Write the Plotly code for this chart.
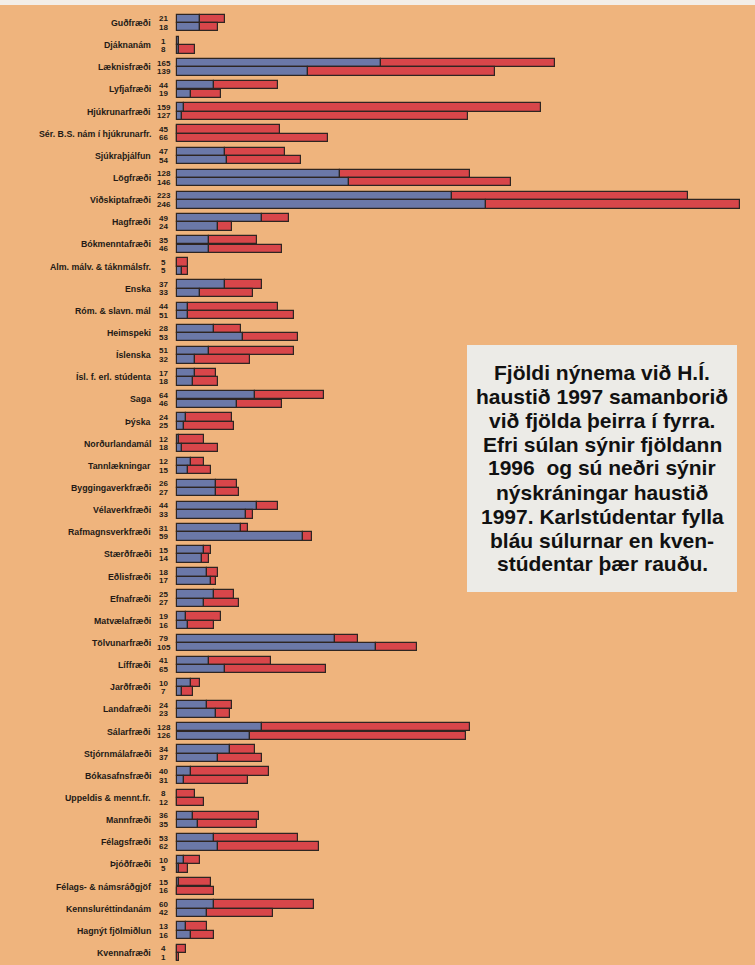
import plotly.graph_objects as go

categories = ["Guðfræði", "Djáknanám", "Læknisfræði", "Lyfjafræði", "Hjúkrunarfræði",
              "Sér. B.S. nám í hjúkrunarfr.", "Sjúkraþjálfun", "Lögfræði", "Viðskiptafræði",
              "Hagfræði", "Bókmenntafræði", "Alm. málv. & táknmálsfr.", "Enska",
              "Róm. & slavn. mál", "Heimspeki", "Íslenska", "Ísl. f. erl. stúdenta", "Saga",
              "Þýska", "Norðurlandamál", "Tannlækningar", "Byggingaverkfræði", "Vélaverkfræði",
              "Rafmagnsverkfræði", "Stærðfræði", "Eðlisfræði", "Efnafræði", "Matvælafræði",
              "Tölvunarfræði", "Líffræði", "Jarðfræði", "Landafræði", "Sálarfræði",
              "Stjórnmálafræði", "Bókasafnsfræði", "Uppeldis & mennt.fr.", "Mannfræði",
              "Félagsfræði", "Þjóðfræði", "Félags- & námsráðgjöf", "Kennsluréttindanám",
              "Hagnýt fjölmiðlun", "Kvennafræði"]

men_1996 = [10, 1, 89, 16, 3, 0, 21, 71, 120, 37, 14, 0, 21, 5, 16, 14, 8, 34, 4, 1, 6,
            17, 35, 28, 12, 13, 16, 4, 69, 14, 6, 13, 37, 23, 6, 0, 7, 16, 3, 1, 16, 4, 0]
women_1996 = [11, 0, 76, 28, 156, 45, 26, 57, 103, 12, 21, 5, 16, 39, 12, 37, 9, 30, 20, 11, 6,
              9, 9, 3, 3, 5, 9, 15, 10, 27, 4, 11, 91, 11, 34, 8, 29, 37, 7, 14, 44, 9, 4]
men_1997 = [10, 1, 57, 6, 2, 0, 22, 75, 135, 18, 14, 2, 10, 5, 29, 8, 7, 26, 3, 2, 5,
            17, 30, 55, 11, 15, 12, 5, 87, 21, 2, 17, 32, 18, 3, 0, 9, 18, 1, 0, 13, 6, 0]
women_1997 = [8, 7, 82, 13, 125, 66, 32, 71, 111, 6, 32, 3, 23, 46, 24, 24, 11, 20, 22, 16, 10,
              10, 3, 4, 3, 2, 15, 11, 18, 44, 5, 6, 94, 19, 28, 12, 26, 44, 4, 16, 29, 10, 1]
total_1996 = [21, 1, 165, 44, 159, 45, 47, 128, 223, 49, 35, 5, 37, 44, 28, 51, 17, 64, 24, 12, 12,
              26, 44, 31, 15, 18, 25, 19, 79, 41, 10, 24, 128, 34, 40, 8, 36, 53, 10, 15, 60, 13, 4]
total_1997 = [18, 8, 139, 19, 127, 66, 54, 146, 246, 24, 46, 5, 33, 51, 53, 32, 18, 46, 25, 18, 15,
              27, 33, 59, 14, 17, 27, 16, 105, 65, 7, 23, 126, 37, 31, 12, 35, 62, 5, 16, 42, 16, 1]

info_lines = ["Fjöldi nýnema við H.Í.", "haustið 1997 samanborið", "við fjölda þeirra í fyrra.",
              "Efri súlan sýnir fjöldann", "1996  og sú neðri sýnir", "nýskráningar haustið",
              "1997. Karlstúdentar fylla", "bláu súlurnar en kven-", "stúdentar þær rauðu."]

BLUE = "#6b78a8"
RED = "#d8464a"
EDGE = "#2e2522"
BG = "#efb47d"
TXT = "#231a16"

W, H = 755, 965
ML, MR, MT, MB = 175, 0, 12, 1
PW, PH = W - ML - MR, H - MT - MB
SCALE = 2.29  # px per student
x0 = -2 / SCALE
x1 = x0 + PW / SCALE

n = len(categories)
idx = list(range(n))
y96 = [i - 0.19 for i in idx]
y97 = [i + 0.19 for i in idx]
bw = 0.375

line = dict(color=EDGE, width=1.2)
fig = go.Figure()
fig.add_trace(go.Bar(y=y96, x=men_1996, orientation="h", width=bw, marker=dict(color=BLUE, line=line),
                     name="Karlar 1996", hoverinfo="x"))
fig.add_trace(go.Bar(y=y96, x=women_1996, base=men_1996, orientation="h", width=bw,
                     marker=dict(color=RED, line=line), name="Konur 1996", hoverinfo="x"))
fig.add_trace(go.Bar(y=y97, x=men_1997, orientation="h", width=bw, marker=dict(color=BLUE, line=line),
                     name="Karlar 1997", hoverinfo="x"))
fig.add_trace(go.Bar(y=y97, x=women_1997, base=men_1997, orientation="h", width=bw,
                     marker=dict(color=RED, line=line), name="Konur 1997", hoverinfo="x"))


def px_x(p):
    return (p - ML) / PW


def px_y(p):
    return (H - MB - p) / PH


ann = []
for i, name in enumerate(categories):
    ann.append(dict(x=px_x(153), xref="paper", y=i, yref="y", text="<b>" + name + "</b>", showarrow=False,
                    xanchor="right", yanchor="middle",
                    font=dict(family="Liberation Sans, Arial, sans-serif", size=8.8, color=TXT)))
    ann.append(dict(x=px_x(163.5), xref="paper", y=y96[i], yref="y", text="<b>%d</b>" % total_1996[i],
                    showarrow=False, xanchor="center", yanchor="middle",
                    font=dict(family="Liberation Sans Narrow, Arial Narrow, sans-serif", size=8, color=TXT)))
    ann.append(dict(x=px_x(163.5), xref="paper", y=y97[i], yref="y", text="<b>%d</b>" % total_1997[i],
                    showarrow=False, xanchor="center", yanchor="middle",
                    font=dict(family="Liberation Sans Narrow, Arial Narrow, sans-serif", size=8, color=TXT)))

line_y = [372, 396, 420, 444, 468, 492, 516, 540, 564]
for t, yy in zip(info_lines, line_y):
    ann.append(dict(x=px_x(602), xref="paper", y=px_y(yy), yref="paper", text="<b>" + t + "</b>",
                    showarrow=False, xanchor="center", yanchor="middle",
                    font=dict(family="Liberation Sans Narrow, Arial Narrow, sans-serif", size=21,
                              color="#111111")))

shapes = [
    dict(type="rect", xref="paper", yref="paper", x0=px_x(467), x1=px_x(737), y0=px_y(592), y1=px_y(345),
         fillcolor="#ecebe7", line=dict(width=0), layer="below"),
    dict(type="rect", xref="paper", yref="paper", x0=px_x(0), x1=px_x(W), y0=px_y(5), y1=px_y(0),
         fillcolor="#f3eee8", line=dict(width=0), layer="below"),
]

fig.update_layout(
    width=W, height=H,
    margin=dict(l=ML, r=MR, t=MT, b=MB, pad=0),
    paper_bgcolor=BG, plot_bgcolor=BG,
    barmode="overlay", bargap=0,
    showlegend=False,
    xaxis=dict(range=[x0, x1], visible=False, fixedrange=True),
    yaxis=dict(range=[n - 0.5, -0.5], visible=False, fixedrange=True),
    annotations=ann, shapes=shapes,
)

fig.write_html("out.html", config={"displayModeBar": False},
               post_script="document.body.style.margin='0px';")
